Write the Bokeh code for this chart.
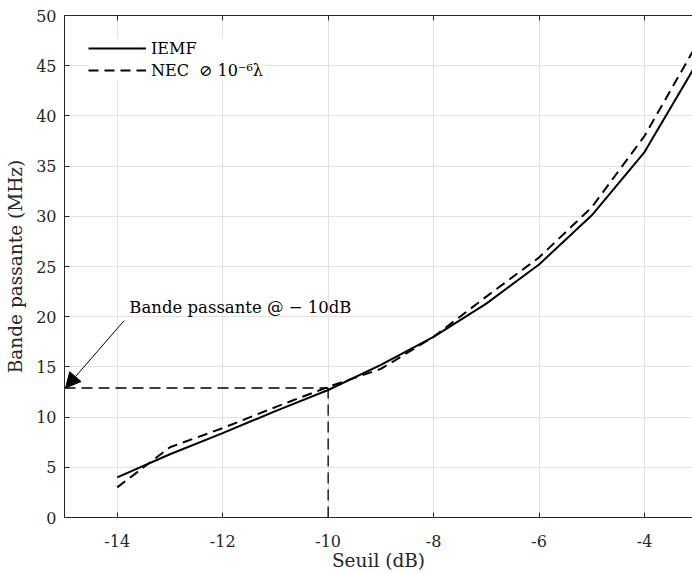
from bokeh.plotting import figure
from bokeh.models import (LinearAxis, FixedTicker, Range1d, Legend, LegendItem,
                          Arrow, NormalHead, Label)
from bokeh.embed import file_html
from bokeh.resources import INLINE

# ---- data ----
seuil = [-14, -13, -12, -11, -10, -9, -8, -7, -6, -5, -4, -3]
iemf = [4.0, 6.3, 8.4, 10.6, 12.7, 15.2, 18.0, 21.3, 25.2, 30.1, 36.4, 45.3]
nec = [3.0, 7.0, 8.9, 11.0, 13.0, 14.8, 18.0, 22.0, 25.9, 30.9, 38.0, 47.2]

x_ticks = [-14, -12, -10, -8, -6, -4]
x_tick_labels = {t: "%d" % t for t in x_ticks}
y_ticks = [0, 5, 10, 15, 20, 25, 30, 35, 40, 45, 50]

bw_x = -10          # seuil at -10 dB
bw_y = 12.9         # bandwidth at -10 dB
arrow_tail = (-13.87, 19.6)
label_pos = (-13.77, 20.9)
label_text = "Bande passante @ − 10dB"

FONT = "DejaVu Serif"
AX = "#262626"

p = figure(output_backend="svg", toolbar_location=None,
           frame_width=628, frame_height=502,
           min_border_left=64, min_border_right=0, min_border_top=15, min_border_bottom=56,
           x_range=Range1d(-15, -3.09), y_range=Range1d(0, 50),
           x_axis_label="Seuil (dB)", y_axis_label="Bande passante (MHz)")
p.outline_line_color = None
p.background_fill_color = "white"

for ax in (p.xaxis[0], p.yaxis[0]):
    ax.axis_line_color = AX
    ax.major_tick_line_color = AX
    ax.major_tick_in = 5
    ax.major_tick_out = 0
    ax.minor_tick_line_color = None
    ax.major_label_text_font = FONT
    ax.major_label_text_font_size = "16px"
    ax.major_label_text_color = AX
    ax.axis_label_text_font = FONT
    ax.axis_label_text_font_size = "18.5px"
    ax.axis_label_text_font_style = "normal"
    ax.axis_label_text_color = AX

p.xaxis[0].ticker = FixedTicker(ticks=x_ticks)
p.xaxis[0].major_label_overrides = x_tick_labels
p.yaxis[0].ticker = FixedTicker(ticks=y_ticks)
p.xaxis[0].major_label_standoff = 17
p.xaxis[0].axis_label_standoff = 0
p.yaxis[0].major_label_standoff = 8
p.yaxis[0].axis_label_standoff = 7

top = LinearAxis(ticker=FixedTicker(ticks=x_ticks), axis_line_color=AX,
                 major_tick_line_color=AX, major_tick_in=5, major_tick_out=0,
                 minor_tick_line_color=None, major_label_text_font_size="1px",
                 major_label_text_color=None, major_label_standoff=0)
p.add_layout(top, "above")

p.xgrid.ticker = FixedTicker(ticks=x_ticks)
p.ygrid.ticker = FixedTicker(ticks=y_ticks)
p.grid.grid_line_color = "#e3e3e3"
p.grid.grid_line_width = 1

# guide lines
p.line([-15, bw_x], [bw_y, bw_y], line_color="black", line_width=1.3, line_dash="11 6")
p.line([bw_x, bw_x], [0, bw_y], line_color="black", line_width=1.3, line_dash="11 6")

r1 = p.line(seuil, iemf, line_color="black", line_width=2)
r2 = p.line(seuil, nec, line_color="black", line_width=2, line_dash="10 6")

p.add_layout(Arrow(end=NormalHead(size=15, fill_color="black", line_color="black"),
                   x_start=arrow_tail[0], y_start=arrow_tail[1],
                   x_end=-14.98, y_end=bw_y, line_width=1, line_color="black"))
p.add_layout(Label(x=label_pos[0], y=label_pos[1], text=label_text,
                   text_font=FONT, text_font_size="16.5px", text_baseline="middle",
                   text_color="black"))

legend = Legend(items=[LegendItem(label="IEMF", renderers=[r1]),
                       LegendItem(label="NEC  ⊘ 10⁻⁶λ", renderers=[r2])],
                location=(24, 437), padding=6, spacing=2, glyph_width=58,
                glyph_height=20, label_height=20, label_standoff=5,
                label_text_font=FONT, label_text_font_size="16px",
                label_text_color="black",
                border_line_color=None, background_fill_color="white",
                background_fill_alpha=1.0)
p.add_layout(legend)

open("out.html", "w").write(file_html(p, INLINE))
